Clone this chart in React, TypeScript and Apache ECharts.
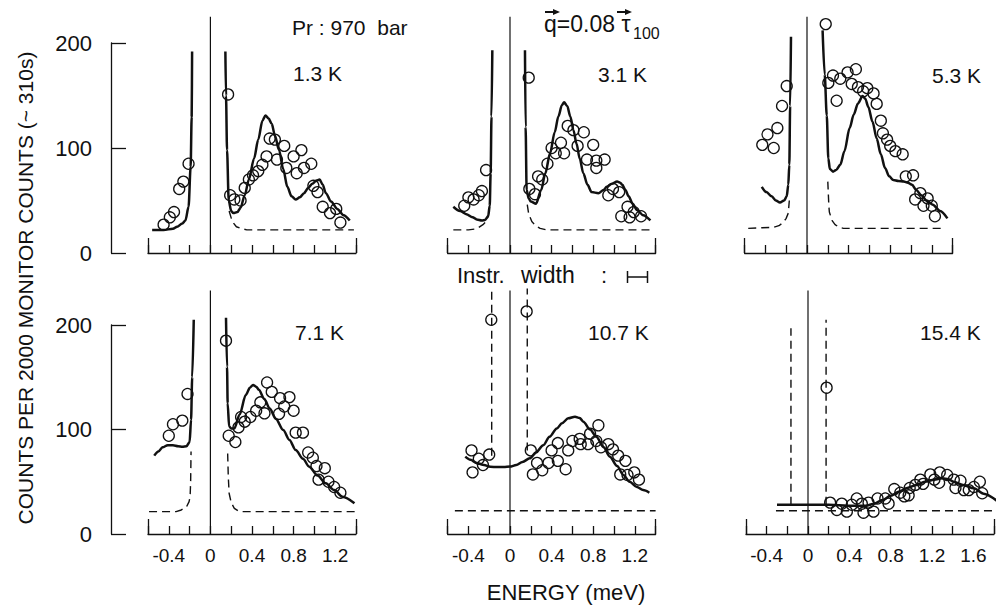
import React, { useEffect, useRef } from "react";
import * as echarts from "echarts";

const INK = "#111";
const FONT = '"Liberation Sans", Arial, Helvetica, sans-serif';

// ---- tick labels / titles ----
const tempLabels = ["1.3 K", "3.1 K", "5.3 K", "7.1 K", "10.7 K", "15.4 K"];
const yTitle = "COUNTS PER 2000 MONITOR COUNTS (~ 310s)";
const xTitle = "ENERGY (meV)";
const xMaxes = [1.4, 1.4, 1.4, 1.4, 1.4, 1.8];
const zeroLineTops = [225, 225, 225, 233, 233, 233];

// ---- 1.3 K ----
const obs1 = [[-0.45,27],[-0.39,34],[-0.35,39],[-0.30,61],[-0.26,68],[-0.21,85],[0.17,151],[0.19,55],[0.23,51],[0.29,50],[0.33,62],[0.37,70],[0.41,74],[0.46,78],[0.50,84],[0.54,92],[0.57,109],[0.62,108],[0.64,89],[0.71,102],[0.73,81],[0.80,92],[0.83,76],[0.875,98],[0.90,81],[0.97,85],[0.99,64],[1.03,58],[1.08,44],[1.15,38],[1.21,42],[1.25,29]];
const fit1L = [[-0.56,22],[-0.45,22],[-0.36,23],[-0.32,25],[-0.27,28],[-0.24,31],[-0.21,44],[-0.19,82],[-0.18,130],[-0.176,192]];
const fit1R = [[0.144,192],[0.15,150],[0.16,98],[0.176,50],[0.2,40],[0.22,38],[0.26,39],[0.29,43],[0.33,55],[0.37,70],[0.42,90],[0.46,108],[0.5,126],[0.53,131],[0.56,128],[0.59,123],[0.62,112],[0.66,98],[0.70,80],[0.74,63],[0.78,54],[0.82,51],[0.86,53],[0.90,57],[0.94,62],[0.98,66],[1.02,69],[1.05,70],[1.08,65],[1.11,57],[1.16,49],[1.22,42],[1.28,36],[1.34,31]];
const bg1R = [[0.18,40],[0.21,30],[0.25,25],[0.29,23.5],[0.35,22],[1.38,22]];

// ---- 3.1 K ----
const obs2 = [[-0.44,45],[-0.40,53],[-0.35,51],[-0.30,55],[-0.27,59],[-0.23,79],[0.18,167],[0.186,61],[0.24,56],[0.27,73],[0.31,70],[0.36,85],[0.40,100],[0.44,95],[0.49,105],[0.52,95],[0.555,121],[0.61,117],[0.65,102],[0.71,115],[0.74,89],[0.80,103],[0.83,88],[0.83,81],[0.91,89],[0.945,55],[0.99,61],[1.05,58],[1.07,35],[1.13,44],[1.15,34],[1.19,39],[1.26,35]];
const fit2L = [[-0.545,44],[-0.48,40],[-0.42,37],[-0.36,34],[-0.32,32],[-0.27,31],[-0.24,31.5],[-0.21,35],[-0.195,45],[-0.186,76],[-0.178,130],[-0.17,193]];
const fit2R = [[0.144,193],[0.15,120],[0.16,60],[0.18,52],[0.2,49],[0.25,47],[0.30,60],[0.34,76],[0.385,95],[0.43,115],[0.465,130],[0.5,141],[0.52,143.5],[0.55,140],[0.58,130],[0.61,117],[0.64,104],[0.67,90],[0.705,76],[0.745,65],[0.785,58],[0.85,57],[0.9,60],[0.93,63],[0.98,66],[1.03,68],[1.06,67],[1.08,65],[1.11,60],[1.14,54],[1.18,47],[1.22,41],[1.28,36],[1.35,31]];
const bg2L = [[-0.545,22],[-0.40,22],[-0.32,23],[-0.26,27],[-0.23,30],[-0.21,35]];
const bg2R = [[0.166,46],[0.18,37],[0.21,30],[0.25,25.5],[0.29,23.5],[0.35,22],[1.38,22]];

// ---- 5.3 K ----
const obs3 = [[-0.43,103],[-0.38,113],[-0.32,100],[-0.285,119],[-0.24,140],[-0.195,159],[0.18,218],[0.205,162],[0.25,169],[0.285,145],[0.32,166],[0.39,172],[0.43,161],[0.47,175],[0.49,158],[0.54,154],[0.58,157],[0.64,152],[0.67,142],[0.71,126],[0.73,114],[0.77,108],[0.80,102],[0.85,97],[0.92,94],[0.95,73],[1.02,74],[1.04,51],[1.09,57],[1.12,45],[1.16,52],[1.20,45],[1.23,35]];
const fit3L = [[-0.435,63],[-0.39,58],[-0.34,54],[-0.30,50],[-0.26,48],[-0.22,50],[-0.195,54],[-0.18,65],[-0.17,84],[-0.162,140],[-0.154,206]];
const fit3R = [[0.15,212],[0.17,170],[0.19,131],[0.205,90],[0.22,80],[0.25,77.5],[0.28,79],[0.32,84],[0.36,97],[0.41,119],[0.45,132],[0.49,142.5],[0.535,149.5],[0.56,147],[0.59,139],[0.63,125],[0.67,109],[0.71,94],[0.75,81],[0.79,73],[0.83,69.5],[0.88,68.5],[0.93,68],[0.97,67],[1.01,65],[1.05,60],[1.10,55],[1.15,50],[1.21,46],[1.28,40],[1.35,33]];
const bg3L = [[-0.565,23.5],[-0.32,24.5],[-0.27,26],[-0.23,29],[-0.2,33],[-0.18,38],[-0.17,50]];
const bg3R = [[0.2,68],[0.21,45],[0.215,39],[0.24,31],[0.27,27],[0.31,24.5],[0.35,23.5],[1.33,23.5]];

// ---- 7.1 K ----
const obs4 = [[-0.40,94],[-0.36,105],[-0.27,108.5],[-0.22,134],[0.15,185],[0.176,94],[0.24,88],[0.27,102],[0.295,112],[0.33,107.5],[0.385,112],[0.44,118],[0.48,126],[0.52,115.5],[0.545,145],[0.59,136],[0.66,115],[0.67,130],[0.71,122],[0.76,131],[0.80,118],[0.82,97],[0.89,97],[0.94,78],[0.985,73],[1.02,65],[1.04,52],[1.10,63],[1.135,50],[1.19,45],[1.25,39.5]];
const fit4L = [[-0.54,75],[-0.50,79],[-0.46,83],[-0.41,85],[-0.36,85],[-0.31,84],[-0.27,83.5],[-0.23,84],[-0.2,88],[-0.186,109],[-0.175,150],[-0.16,205]];
const fit4R = [[0.15,207],[0.16,160],[0.166,125],[0.18,103],[0.2,101],[0.23,101],[0.28,114],[0.34,133],[0.38,140],[0.41,142.6],[0.44,141],[0.465,138],[0.52,129],[0.57,120],[0.63,110],[0.70,99.5],[0.76,90],[0.82,80.4],[0.89,72],[0.95,64.4],[1.03,56],[1.11,48.5],[1.19,42],[1.27,35.7],[1.385,29.4]];
const bg4L = [[-0.59,21.4],[-0.33,21.4],[-0.28,23],[-0.23,26],[-0.205,31],[-0.195,36],[-0.19,50],[-0.186,79]];
const bg4R = [[0.166,77],[0.172,55],[0.18,39],[0.2,30],[0.23,24.6],[0.27,22],[0.31,21.4],[1.39,21.4]];

// ---- 10.7 K ----
const obs5 = [[-0.37,80],[-0.36,59],[-0.30,72],[-0.26,66],[-0.20,76],[-0.18,205],[0.16,213],[0.20,80],[0.22,57],[0.26,68],[0.31,61],[0.37,68],[0.40,80],[0.46,87],[0.46,70],[0.535,62],[0.56,80],[0.60,89],[0.67,91],[0.68,86],[0.75,86],[0.77,96],[0.83,89],[0.85,104],[0.875,83],[0.945,86],[0.99,81],[1.04,75],[1.06,57],[1.11,70],[1.13,56.5],[1.195,59],[1.24,52]];
const fit5 = [[-0.43,74],[-0.38,71],[-0.32,68],[-0.25,66],[-0.19,64.4],[-0.12,64],[-0.06,64],[0,64.5],[0.06,66],[0.12,69],[0.19,72.4],[0.25,78],[0.32,85],[0.38,93],[0.45,101],[0.5,106],[0.56,110.7],[0.625,112.3],[0.67,111],[0.705,107.5],[0.77,100],[0.83,93],[0.9,83],[0.96,74],[1.03,65],[1.09,56.5],[1.15,50],[1.22,45],[1.28,42],[1.34,39.5]];
const bg5 = [[-0.53,22.3],[1.4,22.3]];
const elastic5L = [[-0.176,75],[-0.176,235]];
const elastic5R = [[0.166,80],[0.166,235]];

// ---- 15.4 K ----
const obs6 = [[0.18,140],[0.214,30],[0.279,23],[0.327,29],[0.376,21.4],[0.424,28],[0.472,34],[0.521,29],[0.537,20.4],[0.586,30],[0.634,21.4],[0.673,34],[0.748,34],[0.78,29],[0.835,43],[0.893,39.5],[0.932,36],[0.974,37],[0.984,44],[1.039,47],[1.087,52],[1.114,48],[1.184,57],[1.223,52],[1.275,59],[1.269,49],[1.347,56.5],[1.411,52],[1.427,44],[1.476,51],[1.508,42],[1.556,42],[1.605,45],[1.663,50],[1.686,39]];
const fit6 = [[-0.30,28],[0.2,28],[0.3,27.5],[0.4,27],[0.5,27],[0.56,27],[0.64,29],[0.72,32.5],[0.8,36.5],[0.88,40.5],[0.96,44],[1.05,47],[1.13,50],[1.22,52],[1.30,53.3],[1.36,52.5],[1.41,50],[1.5,47],[1.605,43.7],[1.7,38.5],[1.83,31.6]];
const bg6 = [[-0.31,22.3],[1.8,22.3]];
const elastic6L = [[-0.165,28],[-0.165,197]];
const elastic6R = [[0.175,28],[0.175,205]];

const panels = [
  { obs: obs1, fits: [fit1L, fit1R], dashed: [bg1R] },
  { obs: obs2, fits: [fit2L, fit2R], dashed: [bg2L, bg2R] },
  { obs: obs3, fits: [fit3L, fit3R], dashed: [bg3L, bg3R] },
  { obs: obs4, fits: [fit4L, fit4R], dashed: [bg4L, bg4R] },
  { obs: obs5, fits: [fit5], dashed: [bg5, elastic5L, elastic5R] },
  { obs: obs6, fits: [fit6], dashed: [bg6, elastic6L, elastic6R] },
];

function buildOption() {
  const grid: any[] = [];
  const xAxis: any[] = [];
  const yAxis: any[] = [];
  const series: any[] = [];
  const tickFmt = (v: number) => {
    const k = Math.round(v * 10);
    if (k % 4 !== 0) return "";
    return k === 0 ? "0" : (k / 10).toFixed(1);
  };
  panels.forEach((p, i) => {
    const row = i < 3 ? 0 : 1;
    const col = i % 3;
    const top = row === 0 ? 43 : 325;
    const height = row === 0 ? 210 : 209;
    let left = [148, 447.6, 744.6][col];
    let width = 208;
    if (i === 5) { left = 746; width = 248; }
    const xMax = xMaxes[i];
    grid.push({ left, top, width, height, containLabel: false });
    xAxis.push({
      type: "value", gridIndex: i, position: "bottom", min: -0.6, max: xMax, interval: 0.2,
      axisLine: { show: true, onZero: false, lineStyle: { color: INK, width: 1.3 } },
      axisTick: { show: true, inside: true, length: 8, lineStyle: { color: INK, width: 1.3 } },
      axisLabel: { show: row === 1, formatter: tickFmt, fontSize: 19, color: INK, margin: 12, fontFamily: FONT },
      splitLine: { show: false },
    });
    xAxis.push({
      type: "value", gridIndex: i, position: "bottom", min: -0.6, max: xMax, interval: xMax + 0.6,
      axisLine: { show: false, onZero: false },
      axisTick: { show: true, inside: true, length: 15, lineStyle: { color: INK, width: 1.3 } },
      axisLabel: { show: false }, splitLine: { show: false },
    });
    yAxis.push({
      type: "value", gridIndex: i, min: 0, max: 200, interval: 100,
      show: col === 0, position: "left", offset: 37,
      axisLine: { show: true, onZero: false, lineStyle: { color: INK, width: 1.3 } },
      axisTick: { show: true, inside: true, length: 15, lineStyle: { color: INK, width: 1.3 } },
      axisLabel: { fontSize: 22, color: INK, margin: 19, fontFamily: FONT },
      splitLine: { show: false },
    });
    const base = { xAxisIndex: 2 * i, yAxisIndex: i, clip: false, silent: true, animation: false };
    series.push({ ...base, type: "line", data: [[0, 0], [0, zeroLineTops[i]]], symbol: "none", lineStyle: { color: INK, width: 1.2 }, z: 1 });
    p.dashed.forEach((d) => series.push({ ...base, type: "line", data: d, symbol: "none", lineStyle: { color: INK, width: 1.4, type: [8, 5] }, z: 2 }));
    p.fits.forEach((d) => series.push({ ...base, type: "line", data: d, symbol: "none", smooth: 0.3, smoothMonotone: "x", lineStyle: { color: INK, width: 2.5 }, z: 3 }));
    series.push({ ...base, type: "scatter", data: p.obs, symbol: "circle", symbolSize: 11, itemStyle: { color: "rgba(255,255,255,0)", borderColor: INK, borderWidth: 1.3, opacity: 1 }, z: 4 });
  });

  const txt = (text: string, x: number, y: number, fontSize: number, align = "left", extra: any = {}) => ({
    type: "text", x, y, silent: true, ...extra,
    style: { text, fill: INK, font: `${fontSize}px ${FONT}`, textAlign: align, textVerticalAlign: "middle" },
  });
  const labelPos = [[293, 73], [598, 74], [932, 75], [295, 332], [588, 332], [920, 332]];
  const graphic: any[] = [
    txt("Pr : 970  bar", 292, 27, 21),
    txt("q=0.08 τ", 544, 24, 23),
    txt("100", 633, 33, 16),
    { type: "line", shape: { x1: 545, y1: 12, x2: 556, y2: 12 }, style: { stroke: INK, lineWidth: 2 }, silent: true },
    { type: "polygon", shape: { points: [[553, 9], [560, 12], [553, 15]] }, style: { fill: INK }, silent: true },
    { type: "line", shape: { x1: 617, y1: 12, x2: 628, y2: 12 }, style: { stroke: INK, lineWidth: 2 }, silent: true },
    { type: "polygon", shape: { points: [[625, 9], [632, 12], [625, 15]] }, style: { fill: INK }, silent: true },
    txt("Instr.", 457, 275, 22),
    txt("width", 521, 275, 23),
    txt(":", 601, 275, 22),
    { type: "line", shape: { x1: 627, y1: 277, x2: 648, y2: 277 }, style: { stroke: INK, lineWidth: 1.5 }, silent: true },
    { type: "line", shape: { x1: 627.5, y1: 271, x2: 627.5, y2: 283 }, style: { stroke: INK, lineWidth: 1.5 }, silent: true },
    { type: "line", shape: { x1: 647.5, y1: 271, x2: 647.5, y2: 283 }, style: { stroke: INK, lineWidth: 1.5 }, silent: true },
    txt(xTitle, 566, 592, 22, "center"),
    txt(yTitle, 25, 288, 21, "center", { rotation: Math.PI / 2 }),
  ];
  tempLabels.forEach((t, i) => graphic.push(txt(t, labelPos[i][0], labelPos[i][1], 21)));

  return { animation: false, backgroundColor: "#fff", grid, xAxis, yAxis, series, graphic };
}

export default function App() {
  const ref = useRef<HTMLDivElement>(null);
  useEffect(() => {
    if (!ref.current) return;
    const chart = echarts.init(ref.current, undefined, { renderer: "svg" });
    chart.setOption(buildOption() as any);
    return () => chart.dispose();
  }, []);
  return <div ref={ref} style={{ position: "absolute", left: 0, top: 0, width: 998, height: 607, background: "#fff" }} />;
}
